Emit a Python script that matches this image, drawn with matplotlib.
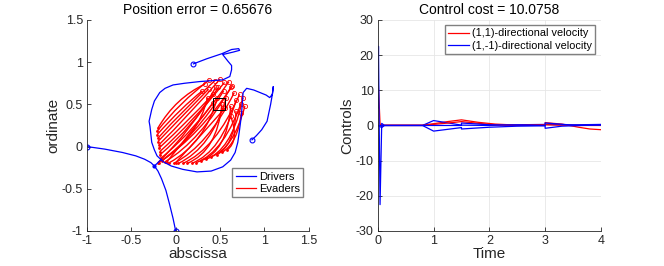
import numpy as np
import matplotlib.pyplot as plt
from matplotlib.path import Path
from matplotlib.patches import PathPatch
from matplotlib.lines import Line2D

plt.rcParams['font.family'] = ['Liberation Sans', 'DejaVu Sans']
plt.rcParams['axes.unicode_minus'] = False

axis_col = (0.15, 0.15, 0.15)

# ---- left panel data ----
# evaders: lower-left end, bend point, upper-right end (circle)
ev_sx = [-0.20, -0.21, -0.21, -0.20, -0.20, -0.19, -0.19, -0.18, -0.18, -0.17, -0.16, -0.19,
         -0.12, -0.07, -0.02, 0.03, 0.08, 0.13, 0.18, 0.23, 0.28, 0.34, 0.40, 0.46, 0.52, 0.58,
         -0.10, 0.00, -0.20, -0.15]
ev_sy = [0.22, 0.18, 0.14, 0.10, 0.06, 0.02, -0.02, -0.06, -0.10, -0.14, -0.17, -0.19,
         -0.18, -0.19, -0.20, -0.20, -0.20, -0.20, -0.20, -0.19, -0.17, -0.15, -0.12, -0.10, -0.07, -0.04,
         -0.18, -0.19, -0.19, -0.16]
ev_cx = [0.00, 0.04, 0.07, 0.09, 0.11, 0.14, 0.15, 0.19, 0.19, 0.22, 0.24, 0.25,
         0.28, 0.33, 0.37, 0.41, 0.45, 0.47, 0.52, 0.55, 0.58, 0.62, 0.65, 0.66, 0.70, 0.72,
         0.20, 0.30, 0.17, 0.26]
ev_cy = [0.58, 0.52, 0.47, 0.44, 0.40, 0.36, 0.31, 0.29, 0.23, 0.19, 0.15, 0.10,
         0.07, 0.04, 0.02, -0.01, -0.03, -0.05, -0.06, -0.07, -0.06, -0.05, -0.03, 0.01, 0.04, 0.07,
         0.20, 0.15, 0.18, 0.13]
ev_ex = [0.33, 0.38, 0.30, 0.44, 0.37, 0.50, 0.42, 0.55, 0.48, 0.60, 0.54, 0.36,
         0.62, 0.47, 0.66, 0.57, 0.72, 0.52, 0.68, 0.76, 0.62, 0.74, 0.78, 0.68, 0.74, 0.62,
         0.42, 0.56, 0.45, 0.64]
ev_ey = [0.74, 0.79, 0.66, 0.78, 0.68, 0.80, 0.62, 0.76, 0.70, 0.77, 0.66, 0.58,
         0.70, 0.58, 0.64, 0.58, 0.62, 0.50, 0.55, 0.58, 0.48, 0.50, 0.48, 0.42, 0.40, 0.36,
         0.52, 0.46, 0.70, 0.72]

target = (0.49, 0.50)

# drivers
d1_x = [-1.00, -0.80, -0.60, -0.45, -0.35, -0.28, -0.24]
d1_y = [0.00, -0.03, -0.07, -0.11, -0.15, -0.19, -0.23]
d2_x = [0.00, -0.03, -0.07, -0.11, -0.16, -0.20, -0.24]
d2_y = [-1.00, -0.85, -0.68, -0.52, -0.38, -0.29, -0.23]
d12_x = [-0.24, -0.16]
d12_y = [-0.23, -0.15]
d3_x = [0.20, 0.35, 0.52, 0.63, 0.71, 0.72, 0.65, 0.53, 0.56, 0.59, 0.63, 0.63, 0.61, 0.53,
        0.40, 0.27, 0.10, -0.03, -0.12, -0.18, -0.24, -0.27, -0.30, -0.29, -0.27, -0.24, -0.21,
        -0.14, -0.05, 0.08, 0.24, 0.40, 0.53, 0.62, 0.67, 0.70, 0.72, 0.74, 0.75, 0.76, 0.80,
        0.88, 0.95, 1.02, 1.06, 1.09, 1.10, 1.09, 1.07, 1.05, 1.03, 0.97, 0.91, 0.86]
d3_y = [0.98, 1.04, 1.10, 1.15, 1.16, 1.14, 1.12, 1.09, 1.05, 1.01, 0.96, 0.91, 0.83, 0.79,
        0.78, 0.77, 0.75, 0.73, 0.69, 0.64, 0.54, 0.44, 0.30, 0.24, 0.05, -0.04, -0.11,
        -0.18, -0.23, -0.27, -0.30, -0.29, -0.24, -0.16, -0.07, 0.05, 0.20, 0.36, 0.50, 0.64, 0.69,
        0.67, 0.64, 0.61, 0.58, 0.62, 0.71, 0.62, 0.50, 0.40, 0.30, 0.20, 0.13, 0.08]
d_start_x = [-1.00, 0.00, 0.20, 0.86]
d_start_y = [0.00, -1.00, 0.98, 0.08]

# ---- right panel data ----
r1_t = [0.00, 0.04, 0.07, 0.12, 0.80, 1.00, 1.25, 1.50, 1.80, 2.10, 2.50, 3.00, 3.00, 3.30, 3.60, 3.80, 4.00]
r1_v = [15.0, 0.5, -0.3, 0.1, 0.1, 0.5, 1.1, 1.6, 0.9, 0.4, 0.1, 0.0, 0.8, 0.4, -0.5, -1.0, -1.2]
r2_t = [0.00, 0.03, 0.10, 0.80, 1.20, 1.50, 2.00, 2.50, 3.00, 3.50, 4.00]
r2_v = [0.0, 0.0, 0.0, 0.0, 0.6, 1.1, 0.3, 0.0, 0.2, 0.0, 0.0]
b1_t = [0.00, 0.012, 0.025, 0.04, 0.07, 0.12, 0.80, 1.00, 1.50, 2.00, 2.50, 3.00, 3.30, 3.60, 4.00]
b1_v = [5.0, 22.5, 0.0, -22.5, 0.6, 0.0, 0.0, 1.4, 0.1, 0.0, 0.2, 0.3, 0.2, 0.2, 0.3]
b2_t = [0.00, 0.07, 0.12, 0.80, 1.00, 1.50, 1.50, 2.00, 2.50, 3.00, 3.00, 3.30, 4.00]
b2_v = [0.0, -0.6, 0.0, 0.0, -1.6, -0.6, -1.0, -0.5, -0.2, -0.1, -0.8, -0.2, 0.2]
b3_t = [0.00, 1.50, 1.50, 2.00, 3.00, 3.00, 3.50, 4.00]
b3_v = [0.0, 0.0, 0.7, 0.2, 0.0, 0.7, 0.1, 0.1]

fig = plt.figure(figsize=(6.64, 2.66), dpi=100)
ax1 = fig.add_axes([0.131, 0.1316, 0.334, 0.7934])
ax2 = fig.add_axes([0.569, 0.1316, 0.336, 0.7934])

# left panel
for i in range(len(ev_sx)):
    verts = [(ev_sx[i], ev_sy[i]), (ev_cx[i], ev_cy[i]), (ev_ex[i], ev_ey[i])]
    p = Path(verts, [Path.MOVETO, Path.CURVE3, Path.CURVE3])
    ax1.add_patch(PathPatch(p, fc='none', ec='red', lw=1.0))
ax1.plot(ev_ex, ev_ey, 'o', ms=3, mfc='none', mec='red', mew=0.6, ls='none')
ax1.plot(ev_sx, ev_sy, '.', ms=2, color='red', ls='none')

for xs, ys in [(d1_x, d1_y), (d2_x, d2_y), (d12_x, d12_y), (d3_x, d3_y)]:
    ax1.plot(xs, ys, color='blue', lw=0.9)
ax1.plot(d_start_x, d_start_y, 'o', ms=3.5, mfc='none', mec='blue', mew=0.8, ls='none')
ax1.plot([-0.24], [-0.23], '.', ms=4, color='blue')
ax1.plot([target[0]], [target[1]], 's', ms=8, mfc='none', mec='black', mew=0.7)

ax1.set_xlim(-1, 1.5)
ax1.set_ylim(-1, 1.5)
ax1.set_xticks([-1, -0.5, 0, 0.5, 1, 1.5])
ax1.set_xticklabels(['-1', '-0.5', '0', '0.5', '1', '1.5'])
ax1.set_yticks([-1, -0.5, 0, 0.5, 1, 1.5])
ax1.set_yticklabels(['-1', '-0.5', '0', '0.5', '1', '1.5'])
ax1.set_xlabel('abscissa', fontsize=11, color=axis_col, labelpad=0)
ax1.set_ylabel('ordinate', fontsize=11, color=axis_col, labelpad=1)
ax1.set_title('Position error = 0.65676', fontsize=10, pad=4)
h = [Line2D([], [], color='blue', lw=0.9), Line2D([], [], color='red', lw=0.9)]
ax1.legend(h, ['Drivers', 'Evaders'], loc='lower right', bbox_to_anchor=(0.985, 0.15),
           fontsize=8, fancybox=False, edgecolor=(0.5, 0.5, 0.5), framealpha=1,
           handlelength=1.8, borderpad=0.3, labelspacing=0.2, handletextpad=0.3,
           borderaxespad=0.2)

# right panel
ax2.grid(True, color=(0.9, 0.9, 0.9), lw=0.6)
ax2.set_axisbelow(True)
ax2.plot(r1_t, r1_v, color='red', lw=0.9, label='(1,1)-directional velocity')
ax2.plot(b1_t, b1_v, color='blue', lw=0.9, label='(1,-1)-directional velocity')
ax2.plot(r2_t, r2_v, color='red', lw=0.9)
ax2.plot(b2_t, b2_v, color='blue', lw=0.9)
ax2.plot(b3_t, b3_v, color='blue', lw=0.9)
ax2.set_xlim(0, 4)
ax2.set_ylim(-30, 30)
ax2.set_xticks([0, 1, 2, 3, 4])
ax2.set_yticks([-30, -20, -10, 0, 10, 20, 30])
ax2.set_xlabel('Time', fontsize=11, color=axis_col, labelpad=0)
ax2.set_ylabel('Controls', fontsize=11, color=axis_col, labelpad=1)
ax2.set_title('Control cost = 10.0758', fontsize=10, pad=4)
ax2.legend(loc='upper right', bbox_to_anchor=(0.975, 0.975), fontsize=7.8, fancybox=False,
           edgecolor=(0.5, 0.5, 0.5), framealpha=1, handlelength=1.9, borderpad=0.3,
           labelspacing=0.2, handletextpad=0.3, borderaxespad=0.0)

for ax in (ax1, ax2):
    ax.spines['top'].set_visible(False)
    ax.spines['right'].set_visible(False)
    for s in ('left', 'bottom'):
        ax.spines[s].set_color(axis_col)
        ax.spines[s].set_linewidth(0.6)
    ax.tick_params(direction='in', length=3, width=0.6, colors=axis_col, labelsize=9, pad=3)

fig.savefig('out.png', dpi=100)
